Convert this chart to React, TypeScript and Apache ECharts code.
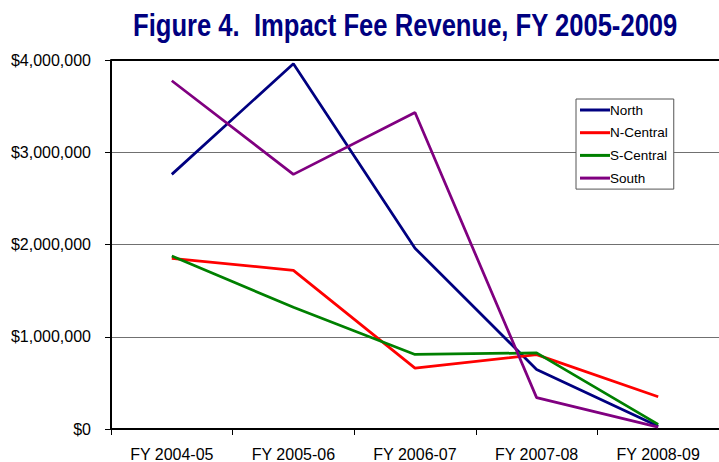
import React, { useEffect, useRef } from "react";
import * as echarts from "echarts";

const categories = ["FY 2004-05", "FY 2005-06", "FY 2006-07", "FY 2007-08", "FY 2008-09"];
const north = [2760000, 3960000, 1960000, 645000, 30000];
const nCentral = [1850000, 1720000, 660000, 806000, 350000];
const sCentral = [1875000, 1320000, 808000, 825000, 50000];
const south = [3775000, 2760000, 3430000, 340000, 20000];
const yTicks = [0, 1000000, 2000000, 3000000, 4000000];

const titleText = "Figure 4.  Impact Fee Revenue, FY 2005-2009";
const seriesNames = ["North", "N-Central", "S-Central", "South"];
const seriesColors = ["#000080", "#FF0000", "#008000", "#800080"];
const seriesData = [north, nCentral, sCentral, south];

const FONT = "'Liberation Sans', Arial, Helvetica, sans-serif";

function fmt(v: number): string {
  return "$" + v.toLocaleString("en-US");
}

export default function App() {
  const ref = useRef<HTMLDivElement>(null);
  useEffect(() => {
    document.body.style.margin = "0";
    const chart = echarts.init(ref.current!, null, { renderer: "svg" });
    chart.setOption({
      animation: false,
      backgroundColor: "#ffffff",
      graphic: [
        {
          type: "text",
          x: 133,
          y: 9,
          scaleX: 0.8,
          silent: true,
          style: {
            text: titleText,
            font: "bold 32px " + FONT,
            fill: "#000080",
            verticalAlign: "top",
          },
        },
      ],
      legend: {
        orient: "vertical",
        left: 576,
        top: 99,
        data: seriesNames,
        icon: "rect",
        backgroundColor: "#ffffff",
        borderColor: "#555555",
        borderWidth: 1,
        borderRadius: 0,
        padding: [4, 6, 4, 4],
        itemWidth: 30,
        itemHeight: 3,
        itemGap: 8.7,
        textStyle: {
          fontFamily: FONT,
          fontSize: 13.5,
          lineHeight: 14,
          color: "#000000",
          padding: [0, 0, 0, -5],
        },
      },
      grid: { left: 111, top: 60, right: -13, bottom: 32 },
      xAxis: {
        type: "category",
        data: categories,
        boundaryGap: true,
        axisLine: { lineStyle: { color: "#000000", width: 2 } },
        axisTick: { show: true, length: 6, lineStyle: { color: "#000000", width: 1 } },
        axisLabel: {
          margin: 17,
          fontFamily: FONT,
          fontSize: 16,
          color: "#000000",
        },
      },
      yAxis: {
        type: "value",
        min: yTicks[0],
        max: yTicks[yTicks.length - 1],
        interval: 1000000,
        axisLine: { show: true, lineStyle: { color: "#000000", width: 2 } },
        axisTick: { show: true, length: 6, lineStyle: { color: "#000000", width: 1 } },
        splitLine: { show: true, lineStyle: { color: "#707070", width: 1 } },
        axisLabel: {
          margin: 20,
          formatter: (v: number) => fmt(v),
          fontFamily: FONT,
          fontSize: 16,
          color: "#000000",
        },
      },
      series: seriesNames.map((name, i) => ({
        name,
        type: "line",
        data: seriesData[i],
        symbol: "none",
        color: seriesColors[i],
        itemStyle: { color: seriesColors[i] },
        lineStyle: { color: seriesColors[i], width: 2.75 },
        z: 3,
        markLine:
          i === 0
            ? {
                silent: true,
                symbol: "none",
                label: { show: false },
                lineStyle: { color: "#000000", width: 2, type: "solid" },
                data: [{ yAxis: yTicks[yTicks.length - 1] }],
              }
            : undefined,
      })),
    });
    return () => chart.dispose();
  }, []);
  return <div ref={ref} style={{ position: "absolute", left: 0, top: 0, width: 719, height: 462 }} />;
}
